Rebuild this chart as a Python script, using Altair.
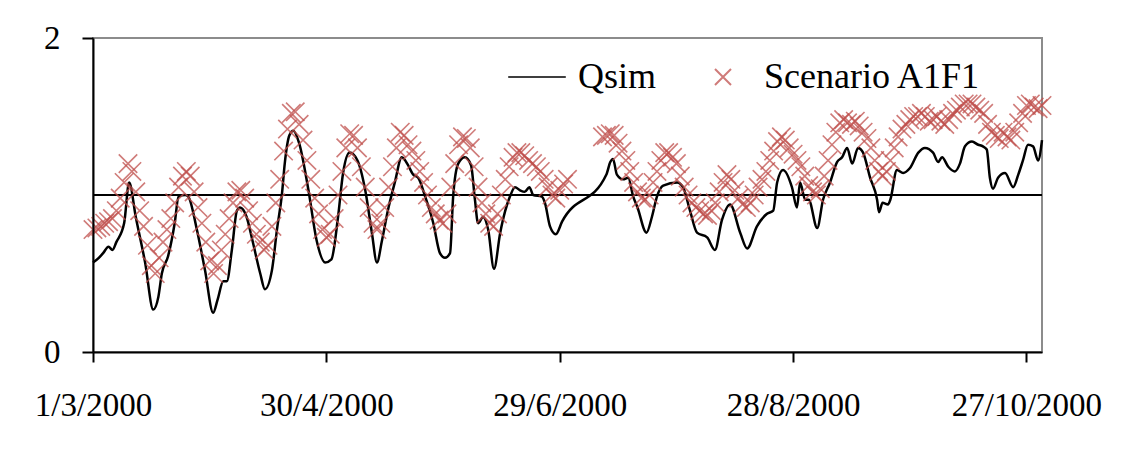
import altair as alt
import pandas as pd

# ---- data (day offsets from 1 March 2000) ----
qsim_day = [0, 1.5, 2.6, 4, 5, 6, 8, 9.3, 11, 13.4, 15.5, 16.8, 17.7, 19.3, 21, 22, 23.7, 24.5,
            26.7, 28.8, 30.9, 32, 33.5, 34.4, 35.7, 37, 37.8, 39.5, 41, 43, 44.2, 46, 47.3, 48.6,
            49.3, 50.5, 51.5, 53, 55.4, 57.5, 59.7, 61.3, 63, 64.3, 66, 68, 70, 71.7, 73, 74.3,
            75.8, 77.6, 79.4, 81, 82.3, 83.6, 85.4, 87.5, 89.2, 90.5, 91.8, 92.6, 93.9, 95.6,
            97.2, 98.2, 99, 100.3, 101.6, 103.1, 104.7, 106, 107.2, 108.5, 109.8, 111, 112.2,
            113.2, 115.4, 116.2, 117.5, 119, 120.6, 132, 133, 133.7, 134.7, 136.3, 137.6, 138.9,
            140, 142.3, 143.7, 145, 146.6, 150.2, 151.7, 153.5, 155.3, 157.9, 159.9, 161.7,
            163.8, 166.4, 168.2, 170.7, 173.3, 174.9, 175.9, 177.4, 179.7, 181, 181.8, 183.1,
            184, 186.2, 187.7, 189.5, 191.3, 192.6, 193.9, 195.2, 196.7, 198, 199.8, 201.6,
            202.1, 203, 204.4, 205, 206.7, 208.3, 210, 212.2, 213.9, 216, 217.3, 218.3, 219.9,
            221.6, 222.9, 224.2, 226, 227.6, 228.8, 229.8, 230.6, 231.4, 232.7, 234.5, 236.6,
            237.9, 239.1, 240.4, 241.7, 243, 244]
qsim_val = [0.57, 0.60, 0.63, 0.67, 0.65, 0.70, 0.82, 1.08, 0.86, 0.57, 0.27, 0.35, 0.50, 0.61,
            0.82, 0.99, 1.00, 0.99, 0.78, 0.52, 0.25, 0.33, 0.45, 0.45, 0.65, 0.90, 0.92, 0.86,
            0.71, 0.50, 0.40, 0.52, 0.78, 1.01, 1.20, 1.38, 1.41, 1.33, 1.03, 0.71, 0.57, 0.59,
            0.86, 1.14, 1.27, 1.22, 1.03, 0.76, 0.57, 0.71, 0.90, 1.08, 1.24, 1.19, 1.13, 1.11,
            0.99, 0.82, 0.63, 0.60, 0.63, 0.99, 1.20, 1.24, 1.19, 0.97, 0.82, 0.86, 0.78, 0.53,
            0.76, 0.90, 0.99, 1.05, 1.03, 1.02, 1.05, 1.00, 0.99, 0.95, 0.80, 0.75, 0.83, 1.13,
            1.21, 1.23, 1.13, 1.10, 1.11, 0.99, 0.92, 0.76, 0.86, 0.99, 1.06, 1.08, 1.05, 0.90,
            0.76, 0.73, 0.65, 0.84, 0.94, 0.76, 0.66, 0.80, 0.88, 0.90, 1.08, 1.16, 1.05, 0.92,
            1.08, 0.97, 0.97, 0.79, 0.97, 1.08, 1.21, 1.24, 1.30, 1.20, 1.30, 1.27, 1.11, 0.97,
            0.89, 0.95, 0.94, 0.97, 1.16, 1.14, 1.17, 1.27, 1.30, 1.27, 1.21, 1.24, 1.18, 1.15,
            1.20, 1.31, 1.34, 1.32, 1.31, 1.29, 1.11, 1.04, 1.11, 1.14, 1.05, 1.13, 1.22, 1.32,
            1.31, 1.22, 1.35]

# Scenario A1F1, daily values: segment 1 starts on day 0, segment 2 on day 131
scen1_start = 0
scen1_val = [0.78, 0.79, 0.80, 0.82, 0.83, 0.85, 0.90, 0.98, 1.08, 1.20, 1.15, 1.02, 0.90, 0.80,
             0.68, 0.55, 0.50, 0.60, 0.70, 0.78, 0.85, 0.95, 1.05, 1.12, 1.15, 1.12, 1.02, 0.92,
             0.82, 0.70, 0.58, 0.50, 0.55, 0.65, 0.75, 0.85, 0.95, 1.02, 1.03, 0.98, 0.90, 0.82,
             0.75, 0.70, 0.65, 0.68, 0.80, 0.95, 1.10, 1.28, 1.42, 1.52, 1.53, 1.45, 1.35, 1.22,
             1.10, 0.98, 0.88, 0.78, 0.73, 0.75, 0.85, 1.00, 1.15, 1.30, 1.39, 1.38, 1.30, 1.18,
             1.05, 0.92, 0.82, 0.78, 0.82, 0.92, 1.05, 1.18, 1.30, 1.40, 1.38, 1.32, 1.28, 1.22,
             1.15, 1.08, 1.00, 0.92, 0.88, 0.84, 0.82, 0.88, 1.05, 1.20, 1.32, 1.37, 1.36, 1.30,
             1.18, 1.05, 0.95, 0.88, 0.82, 0.80, 0.88, 1.00, 1.10, 1.18, 1.24, 1.27, 1.27, 1.25,
             1.22, 1.20, 1.18, 1.15, 1.10, 1.05, 1.00, 0.98, 1.03, 1.07, 1.10]
scen2_start = 131
scen2_val = [1.37, 1.38, 1.39, 1.38, 1.33, 1.28, 1.22, 1.15, 1.08, 1.02, 0.98, 0.97, 1.00, 1.08,
             1.15, 1.22, 1.27, 1.27, 1.24, 1.20, 1.12, 1.05, 1.00, 0.95, 0.92, 0.90, 0.88, 0.87,
             0.90, 0.95, 1.02, 1.08, 1.13, 1.10, 1.03, 0.98, 0.94, 0.92, 0.95, 1.00, 1.05, 1.10,
             1.15, 1.22, 1.28, 1.34, 1.37, 1.35, 1.30, 1.26, 1.22, 1.18, 1.12, 1.06, 1.02, 1.00,
             1.04, 1.12, 1.22, 1.32, 1.40, 1.46, 1.48, 1.46, 1.45, 1.47, 1.44, 1.40, 1.36, 1.30,
             1.22, 1.15, 1.12, 1.15, 1.22, 1.30, 1.37, 1.42, 1.45, 1.48, 1.50, 1.50, 1.52, 1.50,
             1.47, 1.48, 1.50, 1.47, 1.45, 1.48, 1.52, 1.54, 1.56, 1.58, 1.58, 1.58, 1.56, 1.54,
             1.52, 1.45, 1.40, 1.38, 1.36, 1.40, 1.37, 1.35, 1.40, 1.46, 1.52, 1.57, 1.58, 1.56,
             1.55, 1.57]

series_names = ["Qsim", "Scenario A1F1"]
tick_days = [0, 60, 120, 180, 240]
tick_labels = ["1/3/2000", "30/4/2000", "29/6/2000", "28/8/2000", "27/10/2000"]
y_ticks = [0, 1, 2]

# ---- tables ----
qsim_df = pd.DataFrame({"day": qsim_day, "value": qsim_val, "series": series_names[0]})
scen_days = [scen1_start + i for i in range(len(scen1_val))] + \
            [scen2_start + i for i in range(len(scen2_val))]
scen_df = pd.DataFrame({"day": scen_days, "value": scen1_val + scen2_val,
                        "series": series_names[1]})

FONT = "Liberation Serif"
RED = "#C0504D"
XPATH = "M-1,-1L1,1M-1,1L1,-1"
LINEPATH = "M-3.6,0L3.6,0"

label_expr = "[" + ",".join("'%s'" % t for t in tick_labels) + "][round(datum.value/60)]"

x_enc = alt.X("day:Q",
              scale=alt.Scale(domain=[0, 244], nice=False, zero=False),
              axis=alt.Axis(values=tick_days, labelExpr=label_expr, title=None, grid=False,
                            tickSize=10, tickWidth=2, tickColor="black",
                            domainColor="black", domainWidth=2,
                            labelFont=FONT, labelFontSize=33, labelColor="black",
                            labelPadding=27, labelFlush=False, labelOverlap=False, zindex=1))
y_enc = alt.Y("value:Q",
              scale=alt.Scale(domain=[0, 2], nice=False),
              axis=alt.Axis(values=y_ticks, format="d", title=None, grid=False,
                            tickSize=11, tickWidth=2, tickColor="black",
                            domainColor="black", domainWidth=2,
                            labelFont=FONT, labelFontSize=33, labelColor="black",
                            labelPadding=22, zindex=1))

legend = alt.Legend(title=None, orient="none", direction="horizontal",
                    legendX=426, legendY=21,
                    labelFont=FONT, labelFontSize=36, labelColor="black", labelLimit=600,
                    symbolSize=256, symbolStrokeWidth=2,
                    labelOffset=23, columnPadding=48,
                    symbolFillColor="transparent")

color = alt.Color("series:N",
                  scale=alt.Scale(domain=series_names, range=["black", RED]),
                  legend=legend)
shape = alt.Shape("series:N",
                  scale=alt.Scale(domain=series_names, range=[LINEPATH, XPATH]),
                  legend=legend)

line = alt.Chart(qsim_df).mark_line(strokeWidth=2.5, interpolate="monotone").encode(
    x=x_enc, y=y_enc, color=color, order="day:Q")

points = alt.Chart(scen_df).mark_point(filled=False, size=340, strokeWidth=1.6,
                                       opacity=0.75).encode(
    x="day:Q", y="value:Q", color=color, shape=shape)

one_line = alt.Chart(pd.DataFrame({"v": [1]})).mark_rule(color="black", strokeWidth=2).encode(
    y="v:Q")

chart = alt.layer(one_line, line, points).properties(
    width=949, height=314,
    padding={"left": 85, "top": 30, "right": 90, "bottom": 80},
    autosize=alt.AutoSizeParams(type="none"),
    background="white",
).configure_view(stroke="#8c8c8c", strokeWidth=2)

chart.save("out.html", embed_options={"renderer": "svg", "actions": False})
